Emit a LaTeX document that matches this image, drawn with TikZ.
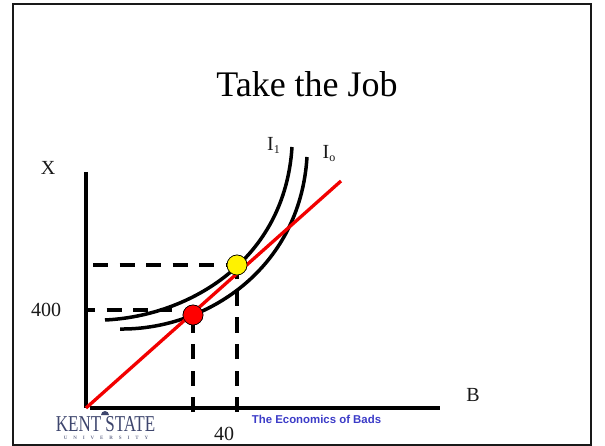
\documentclass[tikz,border=0pt]{standalone}
\usepackage{fontspec}
\setmainfont{Liberation Serif}
\newfontfamily\arialf{Liberation Sans}
\newfontfamily\kentf[FakeStretch=0.75]{Liberation Serif}
\newfontfamily\univf[LetterSpace=118]{Liberation Serif Bold}
\definecolor{kent}{RGB}{62,70,110}
\definecolor{bads}{RGB}{60,60,200}
\tikzset{
 axisline/.style={line width=3.3pt,black},
 curveline/.style={line width=3.5pt,black,line cap=butt},
 dashline/.style={line width=3.3pt,black,dash pattern=on 15pt off 11.5pt},
 redline/.style={line width=3.3pt,red!95!black},
 dot/.style={circle,draw=black,line width=0.6pt,minimum size=20pt,inner sep=0pt},
 lab/.style={inner sep=0pt,font=\fontsize{20}{22}\selectfont,text=black!90},
}
\begin{document}
\begin{tikzpicture}[x=1pt,y=-1pt]
\useasboundingbox (0,0) rectangle (605,446);
\fill[white] (0,0) rectangle (605,446);
\draw[line width=2pt,black!90] (12.5,4) rectangle (591,444.5);
\node[inner sep=0pt,font=\fontsize{36}{38}\selectfont] (title) at (307,84) {Take the Job};
\coordinate (o) at (86,408);
\coordinate (xs) at (90,408);
\coordinate (yt) at (86,172);
\coordinate (xe) at (440,408);
\coordinate (re) at (341,181);
\node[dot,fill=yellow] (Y) at (237,265) {};
\node[dot,fill=red] (R) at (193,315) {};
\coordinate (yl) at (93,265);
\coordinate (rl) at (87,310);
\coordinate (rr) at (172,310);
\coordinate (rb) at (193,412);
\coordinate (yb) at (237,412);
\draw[axisline] (yt) -- (o);
\draw[axisline] (xs) -- (xe);
\draw[dashline] (yl) -- (Y);
\draw[dashline,dash phase=7pt] (rl) -- (rr);
\draw[dashline] (rb) -- (R);
\draw[dashline] (yb) -- (Y);
\draw[curveline] (105,320) .. controls (190,316) and (285,260) .. (292,147);
\draw[curveline] (120,329) .. controls (205,330) and (300,270) .. (307,157);
\draw[redline] (o) -- (re);
\node[dot,fill=yellow] at (Y) {};
\node[dot,fill=red] at (R) {};
\node[lab] (lx) at (48,168) {X};
\node[lab] (l400) at (46,310) {400};
\node[lab] (lb) at (473,395) {B};
\node[lab] (l40) at (224,434) {40};
\node[lab] (i1) at (273.5,145) {I\raisebox{-3pt}{\fontsize{12}{12}\selectfont 1}};
\node[lab] (i0) at (329,154) {I\raisebox{-3pt}{\fontsize{12}{12}\selectfont o}};
\node[inner sep=0pt,text=bads,font=\arialf\bfseries\fontsize{11.4}{12}\selectfont] (eb) at (316.5,419) {The Economics of Bads};
\node[inner sep=0pt,text=kent,font=\kentf\fontsize{22.7}{23}\selectfont] (kent) at (105.5,424.5) {KENT STATE};
\node[inner sep=0pt,text=kent!75,font=\bfseries\fontsize{5}{5}\selectfont] (univ) at (106,437.5) {\addfontfeatures{LetterSpace=118}UNIVERSITY};
\fill[kent] (101,415) arc[start angle=180,end angle=0,radius=4pt] -- cycle;
\end{tikzpicture}
\end{document}
